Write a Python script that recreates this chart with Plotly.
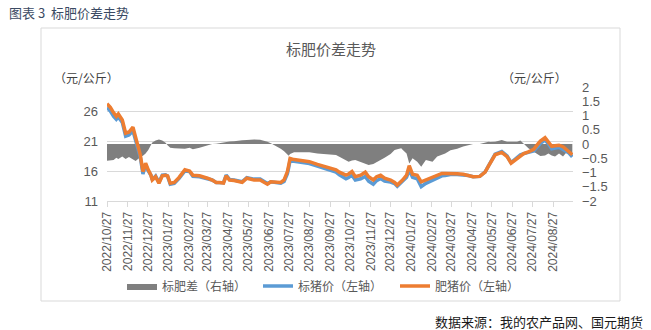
import plotly.graph_objects as go

# ---------------- data ----------------
dates = [
    "2022-10-27", "2022-11-01", "2022-11-06", "2022-11-10", "2022-11-13", "2022-11-19",
    "2022-11-24", "2022-11-29", "2022-12-05", "2022-12-09", "2022-12-14", "2022-12-16",
    "2022-12-20", "2022-12-24", "2022-12-28", "2023-01-01", "2023-01-03", "2023-01-08",
    "2023-01-13", "2023-01-18", "2023-01-23", "2023-01-26", "2023-01-30", "2023-02-05",
    "2023-02-12", "2023-02-17", "2023-02-21", "2023-02-28", "2023-03-05", "2023-03-15",
    "2023-03-22", "2023-03-27", "2023-04-03", "2023-04-09", "2023-04-14", "2023-04-20",
    "2023-04-24", "2023-04-29", "2023-05-06", "2023-05-11", "2023-05-18", "2023-05-25",
    "2023-05-30", "2023-06-05", "2023-06-14", "2023-06-20", "2023-06-25", "2023-06-30",
    "2023-07-10", "2023-07-15", "2023-07-20", "2023-07-25", "2023-07-27", "2023-07-29",
    "2023-08-04", "2023-08-14", "2023-08-27", "2023-09-08", "2023-09-18", "2023-09-30",
    "2023-10-06", "2023-10-11", "2023-10-15", "2023-10-21", "2023-10-25", "2023-10-30",
    "2023-11-04", "2023-11-12", "2023-11-19", "2023-11-24", "2023-12-01", "2023-12-06",
    "2023-12-12", "2023-12-18", "2023-12-27", "2024-01-02", "2024-01-06", "2024-01-12",
    "2024-01-14", "2024-01-20", "2024-01-24", "2024-01-29", "2024-02-05", "2024-02-11",
    "2024-02-18", "2024-02-28", "2024-03-06", "2024-03-13", "2024-03-18", "2024-03-26",
    "2024-04-05", "2024-04-14", "2024-04-22", "2024-04-29", "2024-05-09", "2024-05-17",
    "2024-05-22", "2024-05-25", "2024-06-01", "2024-06-11", "2024-06-19", "2024-06-25",
    "2024-07-04", "2024-07-09", "2024-07-14", "2024-07-21", "2024-07-29", "2024-08-05",
    "2024-08-08", "2024-08-15", "2024-08-20", "2024-08-25", "2024-08-30", "2024-09-05",
    "2024-09-11", "2024-09-17", "2024-09-20", "2024-09-25",
]

fat_price = [  # 肥猪价
    27.2, 26.6, 25.7, 25.1, 25.5, 24.5,
    22.3, 22.5, 23.3, 21.7, 19.8, 18.7,
    15.9, 17.3, 16.2, 15.3, 14.5, 15.05,
    13.95, 15.2, 15.3, 15.2, 13.95, 14.1,
    14.9, 15.6, 16.2, 16.0, 15.3, 15.2,
    15.0, 14.8, 14.5, 14.1, 14.1, 14.0,
    15.2, 14.5, 14.4, 14.3, 14.1, 14.8,
    14.6, 14.5, 14.5, 14.2, 13.8, 14.2,
    14.1, 14.1, 14.5, 15.9, 17.0, 18.1,
    17.9, 17.7, 17.55, 17.1, 16.8, 16.45,
    16.2, 15.8, 15.6, 15.3, 15.5, 15.9,
    15.05, 15.3, 15.8, 15.05, 14.5, 15.05,
    15.3, 14.8, 14.5, 14.1, 13.65, 14.2,
    14.5, 15.3, 16.9, 15.45, 15.3, 14.2,
    14.5, 15.05, 15.3, 15.6, 15.6, 15.6,
    15.55, 15.45, 15.3, 15.05, 15.1, 15.8,
    16.8, 17.3, 18.7, 19.1, 18.4, 17.3,
    18.1, 18.6, 18.9, 19.2, 19.6, 20.6,
    21.0, 21.55, 20.9, 20.1, 20.2, 20.3,
    20.05, 19.5, 19.3, 18.7,
]

std_price = [  # 标猪价
    26.6, 26.0, 25.1, 24.6, 25.0, 24.1,
    21.8, 22.0, 22.7, 21.1, 19.3, 18.3,
    15.5, 17.0, 16.0, 15.3, 14.55, 15.15,
    14.1, 15.3, 15.35, 15.15, 13.8, 13.95,
    14.75, 15.4, 16.0, 15.9, 15.1, 15.05,
    14.9, 14.75, 14.5, 14.1, 14.1, 14.05,
    15.3, 14.6, 14.5, 14.4, 14.2, 14.9,
    14.75, 14.65, 14.65, 14.3, 13.9, 14.2,
    14.0, 13.95, 14.25, 15.55, 16.6, 17.75,
    17.6, 17.4, 17.25, 16.8, 16.45, 16.1,
    15.8, 15.35, 15.1, 14.7, 14.9, 15.3,
    14.5, 14.7, 15.1, 14.3, 13.8, 14.4,
    14.75, 14.3, 14.15, 13.9, 13.45, 14.05,
    14.3, 14.95, 16.2, 14.95, 14.7, 13.4,
    13.95, 14.45, 14.85, 15.2, 15.25, 15.4,
    15.4, 15.35, 15.25, 15.05, 15.1, 15.85,
    16.9, 17.35, 18.8, 19.25, 18.5, 17.4,
    18.2, 18.7, 18.9, 19.05, 19.35, 20.2,
    20.6, 21.15, 20.55, 19.7, 19.75, 19.95,
    19.6, 19.2, 19.0, 18.35,
]

spread = [  # 标肥差
    -0.59, -0.57, -0.56, -0.48, -0.53, -0.44,
    -0.53, -0.46, -0.56, -0.60, -0.50, -0.45,
    -0.41, -0.33, -0.21, -0.02, 0.05, 0.12,
    0.16, 0.12, 0.04, -0.04, -0.13, -0.15,
    -0.16, -0.18, -0.17, -0.13, -0.18, -0.13,
    -0.08, -0.04, 0.00, 0.01, 0.03, 0.06,
    0.08, 0.09, 0.10, 0.12, 0.13, 0.14,
    0.15, 0.16, 0.15, 0.12, 0.08, 0.03,
    -0.09, -0.17, -0.25, -0.35, -0.41, -0.35,
    -0.29, -0.29, -0.29, -0.33, -0.35, -0.37,
    -0.39, -0.45, -0.50, -0.58, -0.62, -0.58,
    -0.56, -0.63, -0.70, -0.74, -0.70, -0.64,
    -0.56, -0.48, -0.35, -0.21, -0.18, -0.15,
    -0.20, -0.33, -0.68, -0.50, -0.62, -0.80,
    -0.56, -0.62, -0.44, -0.38, -0.33, -0.22,
    -0.17, -0.09, -0.04, 0.00, 0.00, 0.05,
    0.08, 0.07, 0.08, 0.14, 0.08, 0.08,
    0.08, 0.12, 0.00, -0.15, -0.27, -0.39,
    -0.42, -0.40, -0.33, -0.40, -0.44, -0.33,
    -0.44, -0.27, -0.30, -0.33,
]

tick_dates = [
    "2022-10-27", "2022-11-27", "2022-12-27", "2023-01-27", "2023-02-27", "2023-03-27",
    "2023-04-27", "2023-05-27", "2023-06-27", "2023-07-27", "2023-08-27", "2023-09-27",
    "2023-10-27", "2023-11-27", "2023-12-27", "2024-01-27", "2024-02-27", "2024-03-27",
    "2024-04-27", "2024-05-27", "2024-06-27", "2024-07-27", "2024-08-27",
]
tick_text = [d.replace("-", "/") for d in tick_dates]

left_ticks = [11, 16, 21, 26]
right_ticks = [-2, -1.5, -1, -0.5, 0, 0.5, 1, 1.5, 2]

series_names = ["标肥差（右轴）", "标猪价（左轴）", "肥猪价（左轴）"]

# ---------------- figure ----------------
FONT = "Noto Sans CJK SC"
GRAY_TXT = "#595959"
W, H = 651, 330
L, R, T, B = 107, 78, 87, 129
pw, ph = W - L - R, H - T - B


def px(x):
    return (x - L) / pw


def py(y):
    return (H - B - y) / ph


fig = go.Figure()

fig.add_trace(go.Scatter(
    x=dates, y=spread, name=series_names[0], yaxis="y", legend="legend",
    mode="lines", line=dict(width=0, color="#7f7f7f"),
    fill="tozeroy", fillcolor="#7f7f7f",
))
fig.add_trace(go.Scatter(
    x=dates, y=std_price, name=series_names[1], yaxis="y2", legend="legend2",
    mode="lines", line=dict(width=3.5, color="#5b9bd5"),
))
fig.add_trace(go.Scatter(
    x=dates, y=fat_price, name=series_names[2], yaxis="y2", legend="legend3",
    mode="lines", line=dict(width=3.5, color="#ed7d31"),
))


def leg(x_px):
    return dict(
        orientation="h", x=px(x_px), xanchor="left", y=py(286), yanchor="middle",
        font=dict(size=12, color=GRAY_TXT), itemwidth=30, bgcolor="rgba(0,0,0,0)",
    )


fig.update_layout(
    width=W, height=H,
    margin=dict(l=L, r=R, t=T, b=B, pad=0),
    paper_bgcolor="white", plot_bgcolor="white",
    font=dict(family=FONT, size=12, color=GRAY_TXT),
    showlegend=True,
    legend=leg(122), legend2=leg(258), legend3=leg(395),
    xaxis=dict(
        type="date", range=["2022-10-27", "2024-09-26"],
        tickvals=tick_dates, ticktext=tick_text, tickangle=-90,
        tickfont=dict(size=12, color=GRAY_TXT, family="Liberation Sans"),
        showgrid=False, showline=True, linecolor="#d9d9d9", linewidth=1,
        ticks="outside", ticklen=5, tickcolor="#d9d9d9", zeroline=False,
    ),
    yaxis=dict(
        side="right", range=[-2, 2], tickvals=right_ticks,
        tickfont=dict(size=13, color=GRAY_TXT, family="Liberation Sans"),
        showgrid=False, zeroline=False, showline=False, ticks="",
        ticklabelstandoff=8,
    ),
    yaxis2=dict(
        overlaying="y", side="left", range=[11, 30], tickvals=left_ticks,
        tickfont=dict(size=13, color=GRAY_TXT, family="Liberation Sans"),
        showgrid=True, gridcolor="#d9d9d9", gridwidth=1,
        zeroline=False, showline=False, ticks="",
        ticklabelstandoff=8,
    ),
)

annotations = [
    dict(text="图表 3  标肥价差走势", x=px(7), y=py(12), xanchor="left", yanchor="middle",
         font=dict(size=13, color="#3b4a63", family=FONT)),
    dict(text="标肥价差走势", x=px(331), y=py(48), xanchor="center", yanchor="middle",
         font=dict(size=15, color=GRAY_TXT, family=FONT)),
    dict(text="（元/公斤）", x=px(52), y=py(77), xanchor="left", yanchor="middle",
         font=dict(size=12, color="#404040", family=FONT)),
    dict(text="（元/公斤）", x=px(500), y=py(77), xanchor="left", yanchor="middle",
         font=dict(size=12, color="#404040", family=FONT)),
    dict(text="数据来源：我的农产品网、国元期货", x=px(645), y=py(321), xanchor="right",
         yanchor="middle", font=dict(size=13, color="#1a1a1a", family=FONT)),
]
for a in annotations:
    a.update(xref="paper", yref="paper", showarrow=False)
fig.update_layout(annotations=annotations)

fig.add_shape(type="rect", xref="paper", yref="paper",
              x0=px(41), x1=px(620), y0=py(301), y1=py(28),
              line=dict(color="#d9d9d9", width=1), fillcolor="rgba(0,0,0,0)",
              layer="below")

fig.write_html("out.html")
